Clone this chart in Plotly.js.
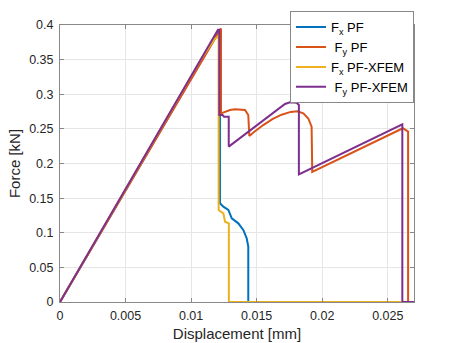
<!DOCTYPE html>
<html>
<head>
<meta charset="utf-8">
<script src="https://cdn.plot.ly/plotly-3.0.1.min.js"></script>
<style>
  html, body { margin: 0; padding: 0; background: #ffffff; }
  #chart { width: 457px; height: 343px; }
</style>
</head>
<body>
<div id="chart"></div>
<script>
// Fx PF
var fxPfX = [0, 0.0122, 0.0122, 0.01246, 0.01284, 0.01297, 0.0131, 0.0136, 0.01398, 0.01424, 0.01436, 0.01436, 0.027];
var fxPfY = [0, 0.394, 0.1425, 0.1377, 0.1329, 0.128, 0.1208, 0.1136, 0.104, 0.092, 0.0799, 0, 0];

// Fy PF
var fyPfX = [0, 0.01228, 0.01228, 0.01258, 0.01297, 0.01335, 0.01373, 0.01411, 0.01436, 0.01444,
             0.0148, 0.0155, 0.0162, 0.0169, 0.0176, 0.0181, 0.01856, 0.01894, 0.01919, 0.01924,
             0.02603, 0.0261, 0.02618, 0.02655, 0.02655, 0.027];
var fyPfY = [0, 0.395, 0.2724, 0.2748, 0.2773, 0.2782, 0.2782, 0.2773, 0.27, 0.2397,
             0.2455, 0.2555, 0.264, 0.2705, 0.2745, 0.2755, 0.2724, 0.265, 0.2533, 0.188,
             0.2498, 0.2508, 0.2508, 0.246, 0, 0];

// Fx PF-XFEM
var fxXfemX = [0, 0.0108, 0.0118, 0.0121, 0.0121, 0.01246, 0.01259, 0.01284, 0.01288, 0.01288, 0.027];
var fxXfemY = [0, 0.352, 0.380, 0.384, 0.1329, 0.128, 0.116, 0.1136, 0.1136, 0, 0];

// Fy PF-XFEM
var fyXfemX = [0, 0.01205, 0.01215, 0.01215, 0.0124, 0.01251, 0.01287, 0.01287,
               0.01716, 0.01754, 0.01805, 0.01822, 0.01822, 0.02611, 0.02611, 0.027];
var fyXfemY = [0, 0.393, 0.393, 0.270, 0.270, 0.2676, 0.2676, 0.2244,
               0.2860, 0.2884, 0.2878, 0.2845, 0.1844, 0.2566, 0, 0];

var seriesNames = ['F<sub>x</sub> PF', '\u00a0F<sub>y</sub> PF', 'F<sub>x</sub> PF-XFEM', '\u00a0F<sub>y</sub> PF-XFEM'];

var font = 'Liberation Sans, Arial, sans-serif';

var data = [
  { x: fxPfX, y: fxPfY, type: 'scatter', mode: 'lines', name: seriesNames[0], legendgroup: 'a',
    line: { color: '#0072BD', width: 2 } },
  { x: fyPfX, y: fyPfY, type: 'scatter', mode: 'lines', name: seriesNames[1], legendgroup: 'b',
    line: { color: '#D95319', width: 2 } },
  { x: fxXfemX, y: fxXfemY, type: 'scatter', mode: 'lines', name: seriesNames[2], legendgroup: 'c',
    line: { color: '#EDB120', width: 2 } },
  { x: fyXfemX, y: fyXfemY, type: 'scatter', mode: 'lines', name: seriesNames[3], legendgroup: 'd',
    line: { color: '#7E2F8E', width: 2 } }
];

var layout = {
  width: 457,
  height: 343,
  margin: { l: 60, r: 43, t: 25, b: 41, pad: 0, autoexpand: false },
  paper_bgcolor: '#ffffff',
  plot_bgcolor: '#ffffff',
  font: { family: font, color: '#262626', size: 12 },
  showlegend: true,
  legend: {
    x: 1, xanchor: 'right', y: 1.05, yanchor: 'top',
    bgcolor: '#ffffff', bordercolor: '#888888', borderwidth: 1,
    font: { family: font, size: 13, color: '#000000' },
    itemwidth: 30,
    tracegroupgap: 0
  },
  xaxis: {
    range: [0, 0.027],
    tick0: 0, dtick: 0.005,
    showgrid: true, gridcolor: '#e6e6e6',
    zeroline: false,
    showline: true, linecolor: '#888888', mirror: 'ticks',
    ticks: 'inside', ticklen: 4, tickcolor: '#888888',
    ticklabelstandoff: 2,
    tickfont: { size: 12.5, color: '#262626' },
    title: { text: 'Displacement [mm]', font: { size: 15, color: '#262626' }, standoff: 6 }
  },
  yaxis: {
    range: [0, 0.4],
    tick0: 0, dtick: 0.05,
    showgrid: true, gridcolor: '#e6e6e6',
    zeroline: false,
    showline: true, linecolor: '#888888', mirror: 'ticks',
    ticks: 'inside', ticklen: 4, tickcolor: '#888888',
    ticklabelstandoff: 3,
    tickfont: { size: 12.5, color: '#262626' },
    title: { text: 'Force [kN]', font: { size: 15, color: '#262626' }, standoff: 4 }
  }
};

Plotly.newPlot('chart', data, layout, { displayModeBar: false, staticPlot: true });
</script>
</body>
</html>
